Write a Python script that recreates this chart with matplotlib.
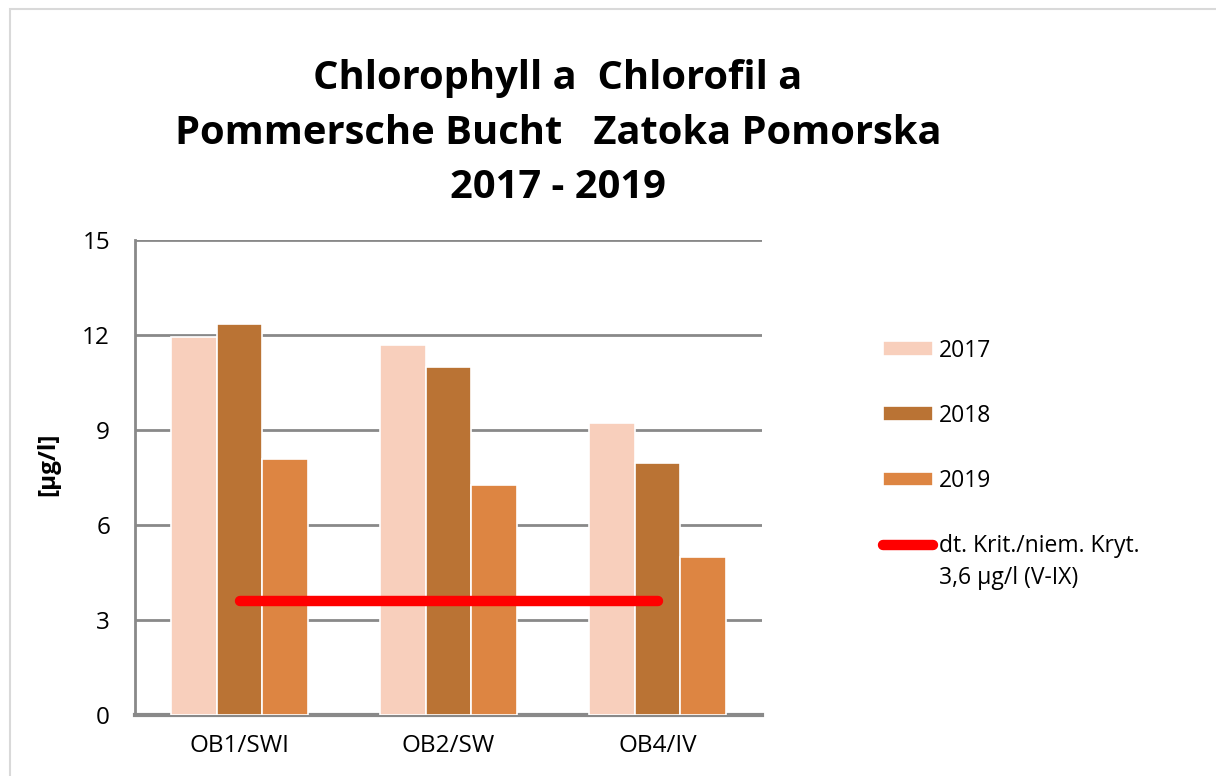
import matplotlib.pyplot as plt
import numpy as np
from matplotlib.patches import Rectangle
from matplotlib.legend_handler import HandlerLine2D

plt.rcParams['font.family'] = ['Open Sans', 'DejaVu Sans']

stations = ['OB1/SWI', 'OB2/SW', 'OB4/IV']
years = ['2017', '2018', '2019']
chl_2017 = [11.95, 11.68, 9.22]
chl_2018 = [12.35, 10.99, 7.96]
chl_2019 = [8.08, 7.26, 4.99]
crit_value = 3.6
crit_label = 'dt. Krit./niem. Kryt.\n3,6 µg/l (V-IX)'

colors = ['#F8CFBC', '#BA7334', '#DD8542']
grid_col = '#898989'


class TopLineHandler(HandlerLine2D):
    # put the legend line level with the first text line
    def create_artists(self, legend, orig_handle, xdescent, ydescent, width, height,
                       fontsize, trans):
        arts = super().create_artists(legend, orig_handle, xdescent, ydescent, width,
                                      height, fontsize, trans)
        for a in arts:
            a.set_ydata(np.asarray(a.get_ydata()) + 0.82 * fontsize)
        return arts


fig = plt.figure(figsize=(12.16, 7.76), dpi=100)
# light frame round the chart
fig.patches.append(Rectangle((10/1216, -0.1), 1.2, (776-9)/776 + 0.1, transform=fig.transFigure,
                             fill=False, edgecolor='#d9d9d9', linewidth=1.5))

ax = fig.add_axes([135/1216, 61/776, 627/1216, 475/776])

x = np.arange(len(stations))
w = 0.218
bars = []
for i, (vals, yr) in enumerate(zip([chl_2017, chl_2018, chl_2019], years)):
    bars.append(ax.bar(x + (i - 1) * w, vals, width=w, color=colors[i], edgecolor='white',
                       linewidth=1.2, label=yr, zorder=3))

crit_line, = ax.plot([x[0], x[-1]], [crit_value, crit_value], color='#FF0000', linewidth=7.5,
                     solid_capstyle='round', label=crit_label, zorder=4)

ax.set_xlim(-0.5, 2.5)
ax.set_ylim(0, 15)
ax.set_yticks([0, 3, 6, 9, 12, 15])
ax.set_xticks(x)
ax.set_xticklabels(stations)
ax.tick_params(axis='both', length=0, labelsize=17.5)
ax.tick_params(axis='x', pad=14)
ax.tick_params(axis='y', pad=18)
ax.yaxis.grid(True, color=grid_col, linewidth=2, zorder=0)
for s in ['top', 'right']:
    ax.spines[s].set_visible(False)
ax.spines['left'].set_color(grid_col)
ax.spines['left'].set_linewidth(2)
ax.spines['bottom'].set_color(grid_col)
ax.spines['bottom'].set_linewidth(3)
ax.set_ylabel('[µg/l]', fontsize=17.5, fontweight='bold')
ax.yaxis.set_label_coords(60/1216, 1 - 464/776, transform=fig.transFigure)

fig.text(558/1216, 1 - 133/776,
         'Chlorophyll a  Chlorofil a\nPommersche Bucht   Zatoka Pomorska\n2017 - 2019',
         ha='center', va='center', fontsize=28.7, fontweight='bold', linespacing=1.53)

leg = ax.legend(handles=bars + [crit_line], loc='upper left',
                bbox_to_anchor=(862/1216, 1 - 318/776),
                bbox_transform=fig.transFigure, frameon=False, fontsize=16.5,
                handlelength=2.2, handleheight=0.62, handletextpad=0.25, labelspacing=1.8,
                handler_map={crit_line: TopLineHandler()})
leg.get_texts()[-1].set_linespacing(1.45)

fig.savefig('out.png', dpi=100)
